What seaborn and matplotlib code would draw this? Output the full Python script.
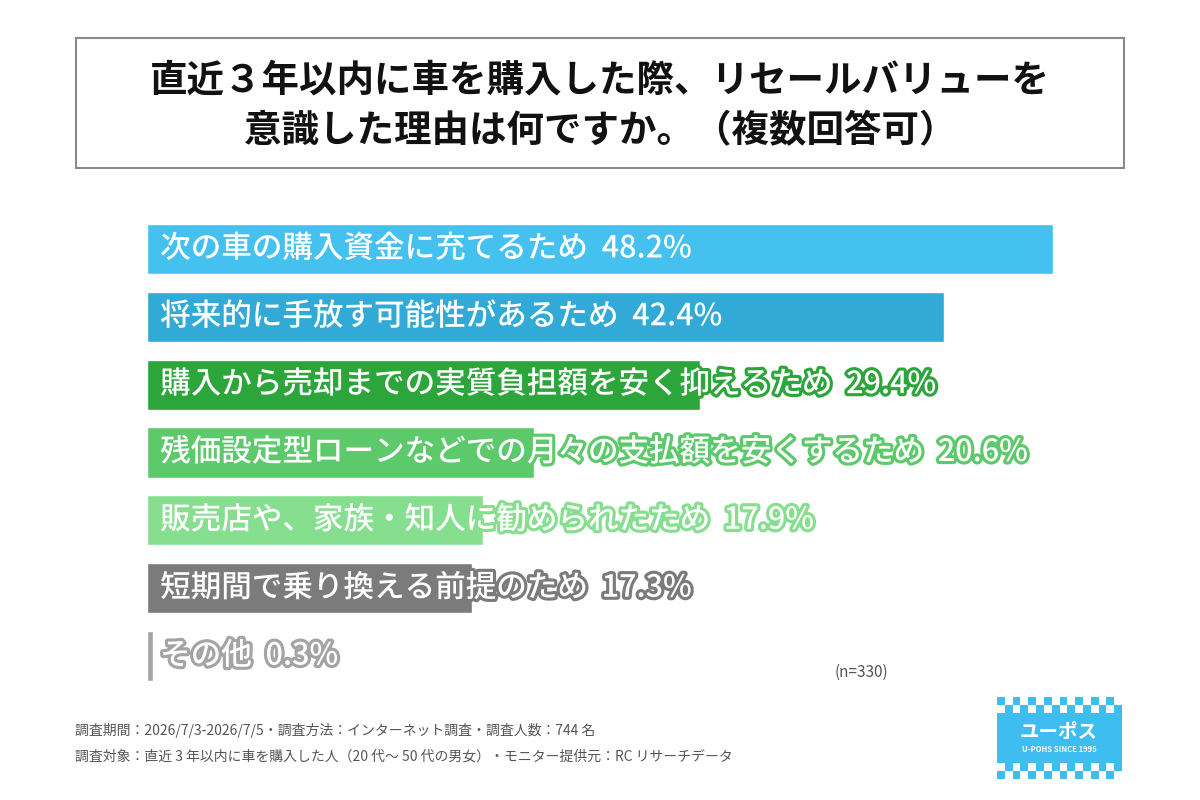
import matplotlib
matplotlib.use('Agg')
import matplotlib.pyplot as plt
import matplotlib.patheffects as pe
from matplotlib.patches import Rectangle
import seaborn as sns
import pandas as pd

# data
categories = [
    "次の車の購入資金に充てるため",
    "将来的に手放す可能性があるため",
    "購入から売却までの実質負担額を安く抑えるため",
    "残価設定型ローンなどでの月々の支払額を安くするため",
    "販売店や、家族・知人に勧められたため",
    "短期間で乗り換える前提のため",
    "その他",
]
values = [48.2, 42.4, 29.4, 20.6, 17.9, 17.3, 0.3]
bar_colors = ["#45C1F0", "#31AAD7", "#2CA53B", "#5CC96B", "#86DE8F", "#7B7B7B", "#A4A4A4"]

title_lines = ["直近３年以内に車を購入した際、リセールバリューを", "意識した理由は何ですか。（複数回答可）"]
footer_lines = [
    "調査期間：2026/7/3-2026/7/5・調査方法：インターネット調査・調査人数：744 名",
    "調査対象：直近 3 年以内に車を購入した人（20 代～ 50 代の男女）・モニター提供元：RC リサーチデータ",
]
n_note = "(n=330)"

sns.set_theme(style="white")
plt.rcParams['font.family'] = ['Noto Sans CJK JP', 'DejaVu Sans']

fig = plt.figure(figsize=(12, 8), dpi=100)
fig.patch.set_facecolor("white")

# overlay axes in pixel coordinates for decorations
deco = fig.add_axes([0, 0, 1, 1])
deco.set_xlim(0, 1200)
deco.set_ylim(800, 0)
deco.axis("off")

# title box
deco.add_patch(Rectangle((76, 38), 1048, 130, fill=False, edgecolor="#8a8a8a", lw=1.5))
deco.text(600, 80, title_lines[0], ha="center", va="center", fontsize=27, fontweight="bold", color="#111111")
deco.text(600, 131, title_lines[1], ha="center", va="center", fontsize=27, fontweight="bold", color="#111111")

# bars
df = pd.DataFrame({"category": categories, "value": values})
ax = fig.add_axes([147 / 1200, 110 / 800, 906 / 1200, 475 / 800])
sns.barplot(data=df, x="value", y="category", hue="category", palette=bar_colors,
            orient="h", width=0.74, ax=ax, legend=False, saturation=1)
ax.set_xlim(0, 48.2)
ax.set_ylim(6.5, -0.5)
ax.axis("off")

for i, (cat, val) in enumerate(zip(categories, values)):
    t = ax.text(0.7, i, f"{cat}  {val}%", ha="left", va="center", fontsize=22,
                fontweight="medium", color="white", clip_on=False)
    t.set_path_effects([pe.Stroke(linewidth=4.5, foreground=bar_colors[i]), pe.Normal()])

deco.text(835, 672, n_note, ha="left", va="center", fontsize=11, color="#555555")

# footer
deco.text(75, 731, footer_lines[0], ha="left", va="center", fontsize=10, color="#555555")
deco.text(75, 757, footer_lines[1], ha="left", va="center", fontsize=10, color="#555555")

# logo
logo_blue = "#3DBDF0"
lx, lw_, sq = 997, 125, 125 / 16
deco.add_patch(Rectangle((lx, 713), lw_, 50, color=logo_blue, lw=0))
for k in range(16):
    x0 = lx + k * sq
    if k % 2 == 0:
        deco.add_patch(Rectangle((x0, 697), sq, 8, color=logo_blue, lw=0))
        deco.add_patch(Rectangle((x0, 771), sq, 8, color=logo_blue, lw=0))
    else:
        deco.add_patch(Rectangle((x0, 705), sq, 8, color=logo_blue, lw=0))
        deco.add_patch(Rectangle((x0, 763), sq, 8, color=logo_blue, lw=0))
deco.text(1059, 732, "ユーポス", ha="center", va="center", fontsize=14, fontweight="bold", color="white")
deco.text(1059, 750, "U-POHS SINCE 1995", ha="center", va="center", fontsize=5.5, fontweight="bold", color="white")

fig.savefig("out.png", dpi=100, facecolor="white")
